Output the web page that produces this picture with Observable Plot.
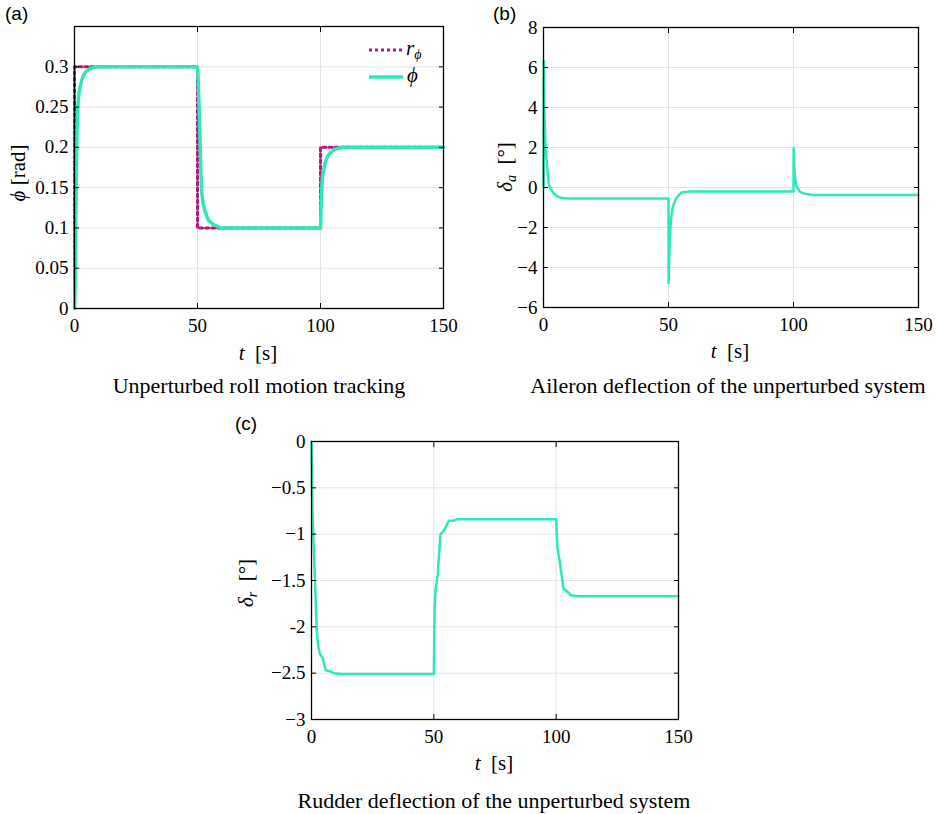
<!DOCTYPE html>
<html><head><meta charset="utf-8">
<script src="https://cdn.jsdelivr.net/npm/d3@7"></script>
<script src="https://cdn.jsdelivr.net/npm/@observablehq/plot@0.6"></script>
<style>
html,body{margin:0;padding:0;background:#fff;}
body{width:937px;height:814px;position:relative;overflow:hidden;font-family:"Liberation Serif","Times New Roman",serif;color:#000;}
svg text{font-family:"Liberation Serif","Times New Roman",serif !important;}
.abs{position:absolute;white-space:nowrap;line-height:1;}
.pl{font-family:"Liberation Sans",Arial,sans-serif;font-size:19px;}
.cap{font-size:22px;transform:translate(-50%,-50%);}
.xl{font-size:21px;transform:translate(-50%,-50%);}
.yl{font-size:21px;transform:translate(-50%,-50%) rotate(-90deg);}
i{font-style:italic;}
sub{font-size:14px;vertical-align:-4px;line-height:0;}
.leg{font-size:21px;}
</style></head><body>
<script>
// ---------- data ----------
const timeTicks = [0, 50, 100, 150];
const timeTickLabels = ["0", "50", "100", "150"];

// (a) roll tracking
const refT = [0, 0, 50, 50, 100, 100, 150];
const refPhi = [0, 0.3, 0.3, 0.1, 0.1, 0.2, 0.2];
const phiT = [0, 0.3, 0.45, 0.7, 0.9, 1.35, 2, 2.7, 3.5, 4.2, 5.1, 6, 7.5, 9.2, 50,
  50.3, 50.65, 51.1, 51.6, 52.1, 52.7, 53.4, 54.1, 55, 56.1, 57.4, 58.8, 60, 100,
  100.3, 100.7, 101.2, 101.7, 102.4, 103.1, 104, 105.1, 106.4, 107.8, 110, 150];
const phiV = [0, 0.05, 0.1, 0.15, 0.2, 0.25, 0.27, 0.28, 0.288, 0.292, 0.295, 0.297, 0.299, 0.3, 0.3,
  0.28, 0.25, 0.2, 0.15, 0.135, 0.125, 0.118, 0.112, 0.108, 0.105, 0.103, 0.101, 0.1, 0.1,
  0.135, 0.16, 0.171, 0.178, 0.185, 0.19, 0.193, 0.196, 0.198, 0.199, 0.2, 0.2];
const phiTicks = [0, 0.05, 0.1, 0.15, 0.2, 0.25, 0.3];
const phiTickLabels = ["0", "0.05", "0.1", "0.15", "0.2", "0.25", "0.3"];

// (b) aileron deflection
const daT = [0, 0.1, 0.4, 0.8, 1.5, 2.1, 2.8, 4.1, 5.5, 7.5, 10, 50,
  50.05, 50.5, 51, 51.6, 52.7, 54, 55.3, 58.7, 100,
  100.05, 100.4, 101, 102.4, 103.5, 105.3, 107, 109.3, 150];
const daV = [0, 6.33, 3.6, 2.0, 1.0, 0.15, -0.05, -0.3, -0.45, -0.53, -0.55, -0.55,
  -4.78, -2.6, -1.6, -1.03, -0.62, -0.4, -0.25, -0.2, -0.2,
  1.97, 0.8, 0.13, -0.2, -0.27, -0.33, -0.36, -0.37, -0.37];
const daTicks = [-6, -4, -2, 0, 2, 4, 6, 8];
const daTickLabels = ["\u22126", "\u22124", "\u22122", "0", "2", "4", "6", "8"];

// (c) rudder deflection
const drT = [0, 0.4, 0.8, 1.4, 2.2, 2.7, 3.4, 4.5, 5.8, 7.6, 9.2, 12, 50,
  50.3, 50.7, 51.6, 52.7, 53.8, 54.8, 56.1, 57.9, 59.5, 100,
  100.5, 101.6, 103, 104.6, 106, 109, 150];
const drV = [0, -0.75, -1.05, -1.5, -2.05, -2.2, -2.29, -2.33, -2.47, -2.48, -2.5, -2.51, -2.51,
  -1.8, -1.6, -1.44, -1.0, -0.97, -0.93, -0.855, -0.855, -0.84, -0.84,
  -1.14, -1.32, -1.59, -1.62, -1.66, -1.67, -1.67];
const drTicks = [-3, -2.5, -2, -1.5, -1, -0.5, 0];
const drTickLabels = ["\u22123", "\u22122.5", "-2", "\u22121.5", "\u22121", "\u22120.5", "0"];

const TEAL = "#2de8b8";
const MAGENTA = "#b5177e";
const GRID = "#e3e3e3";
const SERIF = '"Liberation Serif","Times New Roman",serif';

// ---------- helpers ----------
function zip(xs, ys) { return xs.map((x, i) => ({t: x, v: ys[i]})); }

function panel({left, top, width, height, mt, mr, mb, ml, yDomain, yTicks, yLabels, marks}) {
  const fmtX = d => timeTickLabels[timeTicks.indexOf(d)];
  const fmtY = d => yLabels[yTicks.indexOf(d)];
  const txt = {fontFamily: SERIF, fontSize: 19};
  const chart = Plot.plot({
    width, height,
    marginTop: mt, marginRight: mr, marginBottom: mb, marginLeft: ml,
    x: {domain: [0, 150]},
    y: {domain: yDomain},
    style: {fontFamily: SERIF, fontSize: "19px", color: "#000", background: "transparent", overflow: "visible"},
    marks: [
      Plot.gridX(timeTicks, {stroke: GRID, strokeOpacity: 1, strokeWidth: 1}),
      Plot.gridY(yTicks, {stroke: GRID, strokeOpacity: 1, strokeWidth: 1}),
      ...marks,
      Plot.frame({stroke: "#000", strokeWidth: 1.3}),
      Plot.axisX(timeTicks, {anchor: "bottom", tickSize: -5, tickPadding: 15, tickFormat: fmtX, label: null, stroke: "#000", ...txt}),
      Plot.axisX(timeTicks, {anchor: "top", tickSize: -5, tickFormat: () => "", label: null, stroke: "#000"}),
      Plot.axisY(yTicks, {anchor: "left", tickSize: -5, tickPadding: 11, tickFormat: fmtY, label: null, stroke: "#000", ...txt}),
      Plot.axisY(yTicks, {anchor: "right", tickSize: -5, tickFormat: () => "", label: null, stroke: "#000"})
    ]
  });
  chart.style.position = "absolute";
  chart.style.left = left + "px";
  chart.style.top = top + "px";
  document.body.appendChild(chart);
}

function html(cls, x, y, content) {
  const d = document.createElement("div");
  d.className = "abs " + cls;
  d.style.left = x + "px";
  d.style.top = y + "px";
  d.innerHTML = content;
  document.body.appendChild(d);
  return d;
}

// ---------- panel (a) ----------
panel({
  left: 0, top: 0, width: 460, height: 345, mt: 26, mr: 17, mb: 37, ml: 74,
  yDomain: [0, 0.35], yTicks: phiTicks, yLabels: phiTickLabels,
  marks: [
    Plot.line(zip(refT, refPhi), {x: "t", y: "v", stroke: MAGENTA, strokeWidth: 3, strokeDasharray: "3,3"}),
    Plot.line(zip(phiT, phiV), {x: "t", y: "v", stroke: TEAL, strokeWidth: 3.5, curve: "monotone-x"})
  ]
});
// ---------- panel (b) ----------
panel({
  left: 470, top: 0, width: 467, height: 345, mt: 27, mr: 19, mb: 38, ml: 73,
  yDomain: [-6, 8], yTicks: daTicks, yLabels: daTickLabels,
  marks: [
    Plot.line(zip(daT, daV), {x: "t", y: "v", stroke: TEAL, strokeWidth: 2.5})
  ]
});
// ---------- panel (c) ----------
panel({
  left: 230, top: 410, width: 470, height: 350, mt: 31, mr: 22, mb: 41, ml: 81,
  yDomain: [-3, 0], yTicks: drTicks, yLabels: drTickLabels,
  marks: [
    Plot.line(zip(drT, drV), {x: "t", y: "v", stroke: TEAL, strokeWidth: 2.5})
  ]
});

// ---------- text ----------
html("pl", 5, 4, "(a)");
html("pl", 493, 4, "(b)");
html("pl", 235, 414, "(c)");

html("xl", 258, 353, "<i>t</i> &nbsp;[s]");
html("xl", 730, 351, "<i>t</i> &nbsp;[s]");
html("xl", 494, 763, "<i>t</i> &nbsp;[s]");

html("yl", 18, 173, "<i>\u03d5</i> [rad]");
html("yl", 505, 167, "<i>\u03b4<sub>a</sub></i> &nbsp;[\u00b0]");
html("yl", 246, 583, "<i>\u03b4<sub>r</sub></i> &nbsp;[\u00b0]");

html("cap", 259, 386, "Unperturbed roll motion tracking");
html("cap", 728, 386, "Aileron deflection of the unperturbed system");
html("cap", 494, 801, "Rudder deflection of the unperturbed system");

// legend (a)
html("leg", 369, 38,
  '<svg width="34" height="20" style="vertical-align:middle"><line x1="0" x2="34" y1="10" y2="10" stroke="' + MAGENTA + '" stroke-width="3" stroke-dasharray="3,3"/></svg>' +
  '<span style="margin-left:3px"><i>r<sub>\u03d5</sub></i></span>');
html("leg", 369, 65,
  '<svg width="34" height="20" style="vertical-align:middle"><line x1="0" x2="34" y1="10" y2="10" stroke="' + TEAL + '" stroke-width="3.5"/></svg>' +
  '<span style="margin-left:4px"><i>\u03d5</i></span>');
</script>
</body></html>
